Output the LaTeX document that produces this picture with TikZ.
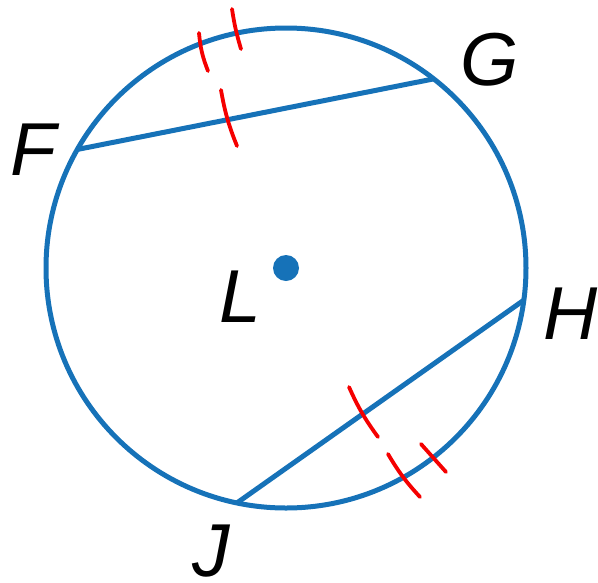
\documentclass[tikz,border=0pt]{standalone}
\usepackage{fontspec}
\setsansfont{Liberation Sans}
\usetikzlibrary{calc}
\definecolor{circblue}{RGB}{22,114,184}
\definecolor{tickred}{RGB}{245,0,0}
\tikzset{
  lbl/.style={font=\fontsize{75}{75}\selectfont\sffamily\itshape, inner sep=0pt},
  tick/.style={draw=tickred, line width=3.8pt, line cap=round}
}
\begin{document}
\begin{tikzpicture}[x=1pt, y=-1pt, line width=5pt]
  \useasboundingbox (0,0) rectangle (598,582);
  \coordinate (L) at (286,268);
  \draw[circblue] (L) circle (240);
  \fill[circblue] (L) circle (13);
  \coordinate (F) at ($(L)+(209.6:240)$);
  \coordinate (G) at ($(L)+(-52:240)$);
  \coordinate (H) at ($(L)+(7.7:240)$);
  \coordinate (J) at ($(L)+(101.8:240)$);
  \draw[circblue] (F) -- (G);
  \draw[circblue] (J) -- (H);
  % congruence marks
  \draw[tick] (199,33) to[bend right=8] (208,71);
  \draw[tick] (232,9) to[bend right=4] (241,49);
  \draw[tick] (221,90) to[bend right=6] (237,146);
  \draw[tick] (349,387) to[bend right=6] (378,437);
  \draw[tick] (388,454) to[bend right=6] (420,497);
  \draw[tick] (421,444) -- (446,472);
  % labels
  \node[lbl] (labF) at (33,150) {F};
  \node[lbl] (labG) at (490,60) {G};
  \node[lbl] (labH) at (571,314) {H};
  \node[lbl, anchor=north] (labJ) at (211,522) {J};
  \node[lbl] (labL) at (240,297) {L};
\end{tikzpicture}
\end{document}
